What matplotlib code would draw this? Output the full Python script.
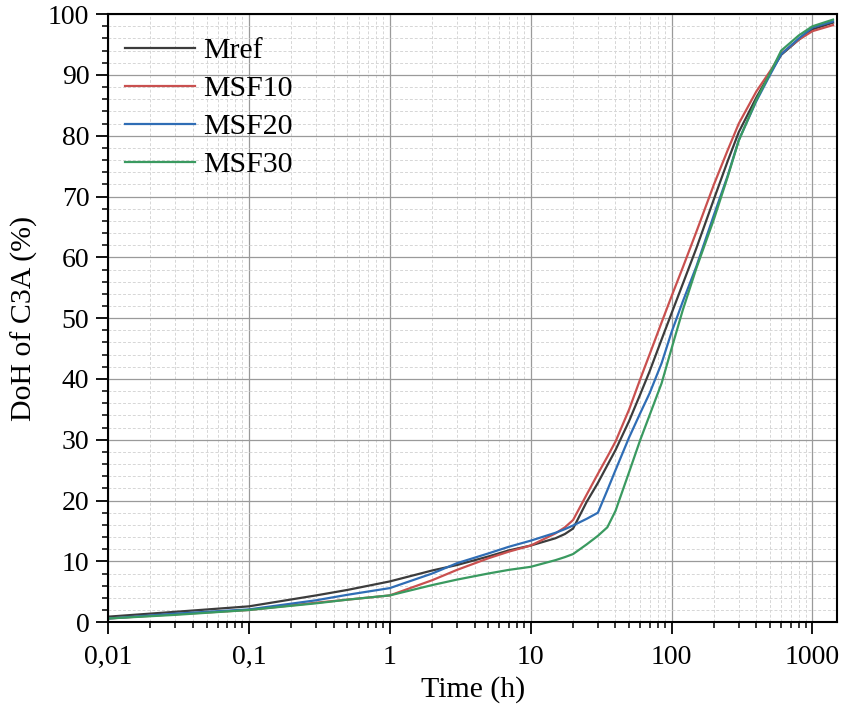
import matplotlib
matplotlib.use("Agg")
import matplotlib.pyplot as plt
from matplotlib.ticker import FixedLocator, MultipleLocator, NullFormatter

# time axis (h), shared by all series
time_h = [0.01, 0.03, 0.1, 0.3, 0.5, 1, 2, 3, 5, 7, 10, 15, 17.5, 20, 25, 30,
          35, 40, 50, 60, 70, 85, 100, 120, 150, 200, 250, 300, 400, 500,
          600, 800, 1000, 1400]

# degree of hydration of C3A (%)
mref = [0.9, 1.7, 2.6, 4.4, 5.3, 6.7, 8.5, 9.4, 10.8, 11.8, 12.6, 13.8, 14.5,
        15.4, 19.8, 22.9, 25.8, 28.3, 33.1, 37.5, 41.3, 46.5, 50.8, 55.6,
        61.5, 69.6, 75.8, 80.6, 86.3, 90.3, 93.3, 95.8, 97.5, 98.6]
msf10 = [0.6, 1.3, 2.0, 3.2, 3.7, 4.4, 6.9, 8.6, 10.5, 11.6, 12.6, 14.6, 15.6,
         16.8, 21.0, 24.4, 27.2, 29.7, 35.0, 40.0, 44.1, 49.3, 53.6, 58.3,
         64.2, 72.0, 77.6, 82.0, 87.3, 90.6, 93.5, 95.8, 97.2, 98.2]
msf20 = [0.6, 1.4, 2.1, 3.6, 4.5, 5.6, 8.0, 9.7, 11.3, 12.4, 13.4, 14.7, 15.3,
         15.9, 17.0, 18.0, 21.7, 25.0, 30.4, 34.4, 37.7, 42.6, 47.7, 52.7,
         58.5, 67.0, 73.4, 79.3, 85.7, 90.0, 93.4, 96.0, 97.8, 98.8]
msf30 = [0.6, 1.2, 2.0, 3.1, 3.7, 4.4, 6.1, 7.0, 8.0, 8.6, 9.1, 10.2, 10.7,
         11.2, 12.8, 14.2, 15.6, 18.3, 24.7, 30.0, 34.1, 39.3, 45.0, 51.3,
         58.2, 66.3, 73.2, 79.2, 85.9, 90.3, 94.0, 96.5, 98.0, 99.1]

labels = ["Mref", "MSF10", "MSF20", "MSF30"]
colors = ["#3c3c3c", "#c9504f", "#2f6db5", "#3a9a60"]

x_ticks = [0.01, 0.1, 1, 10, 100, 1000]
x_tick_labels = ["0,01", "0,1", "1", "10", "100", "1000"]

plt.rcParams["font.family"] = ["Liberation Serif", "DejaVu Serif"]

fig = plt.figure(figsize=(8.44, 7.07), dpi=100)
ax = fig.add_axes([0.128, 0.120, 0.864, 0.860])

for y, lab, c in zip([mref, msf10, msf20, msf30], labels, colors):
    ax.plot(time_h, y, color=c, lw=1.6, label=lab)

ax.set_xscale("log")
ax.set_xlim(0.01, 1500)
ax.set_ylim(0, 100)

ax.xaxis.set_major_locator(FixedLocator(x_ticks))
ax.set_xticklabels(x_tick_labels)
minor = [m * 10.0**e for e in range(-2, 4) for m in range(2, 10)]
ax.xaxis.set_minor_locator(FixedLocator([v for v in minor if v < 1500]))
ax.xaxis.set_minor_formatter(NullFormatter())
ax.yaxis.set_major_locator(MultipleLocator(10))
ax.yaxis.set_minor_locator(MultipleLocator(2))

ax.grid(which="major", color="#9a9a9a", lw=0.9, ls="-")
ax.grid(which="minor", color="#d6d6d6", lw=0.7, ls=(0, (3, 2)))
ax.set_axisbelow(True)

ax.tick_params(which="major", direction="out", length=8.5, width=1.3,
               labelsize=20)
ax.tick_params(axis="x", which="major", pad=8)
ax.tick_params(axis="y", which="major", pad=5)
ax.tick_params(which="minor", direction="out", length=4, width=1.1)
for s in ax.spines.values():
    s.set_linewidth(1.5)

ax.set_xlabel("Time (h)", fontsize=21.5, labelpad=4)
ax.set_ylabel("DoH of C3A (%)", fontsize=21.5, labelpad=7)

ax.legend(loc="upper left", bbox_to_anchor=(0.0, 0.99), frameon=False,
          fontsize=21.5, handlelength=2.35, handletextpad=0.27,
          labelspacing=0.37, borderaxespad=0.17)

fig.savefig("out.png", dpi=100)
